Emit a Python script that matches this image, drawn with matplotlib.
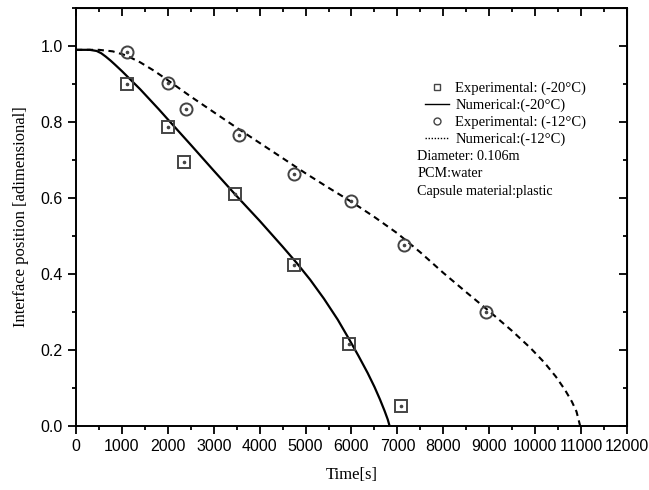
import numpy as np
import matplotlib.pyplot as plt
from matplotlib.lines import Line2D
from matplotlib.ticker import MultipleLocator

# experimental points
exp20_t = [1100, 2000, 2350, 3470, 4750, 5950, 7070]
exp20_y = [0.90, 0.787, 0.695, 0.61, 0.425, 0.215, 0.052]
exp12_t = [1100, 2000, 2400, 3550, 4750, 6000, 7150, 8940]
exp12_y = [0.985, 0.902, 0.835, 0.766, 0.663, 0.592, 0.476, 0.301]

# numerical curves
num20_t = [0, 300, 450, 550, 650, 750, 850, 1000, 1200, 1400, 1600, 1800,
           2000, 2500, 3000, 3500, 4000, 4500, 4800, 5100, 5400, 5700,
           5950, 6150, 6350, 6500, 6620, 6720, 6790, 6830]
num20_y = [0.99, 0.99, 0.987, 0.981, 0.972, 0.962, 0.951, 0.934, 0.91,
           0.886, 0.86, 0.834, 0.807, 0.74, 0.672, 0.605, 0.54, 0.472,
           0.43, 0.385, 0.335, 0.28, 0.228, 0.185, 0.14, 0.103, 0.07,
           0.04, 0.017, 0.0]
num12_t = [0, 500, 800, 1100, 1400, 1700, 2000, 2500, 3000, 3500, 4000,
           4500, 5000, 5500, 6000, 6500, 7000, 7500, 8000, 8500, 9000, 9500,
           9900, 10200, 10450, 10650, 10800, 10900, 10980]
num12_y = [0.99, 0.99, 0.986, 0.975, 0.957, 0.935, 0.91, 0.867, 0.826,
           0.785, 0.745, 0.705, 0.665, 0.627, 0.59, 0.55, 0.507, 0.457,
           0.403, 0.352, 0.302, 0.25, 0.205, 0.167, 0.13, 0.095, 0.064,
           0.038, 0.0]

legend_labels = ["Experimental: (-20\u00b0C)", "Numerical:(-20\u00b0C)",
                 "Experimental: (-12\u00b0C)", "Numerical:(-12\u00b0C)"]
notes = ["Diameter: 0.106m", "PCM:water", "Capsule material:plastic"]

serif = "Liberation Serif"
sans = "Liberation Sans"
edge = "#444444"

fig = plt.figure(figsize=(6.49, 4.90), dpi=100)
ax = fig.add_axes([0.1171, 0.1306, 0.849, 0.853])

ax.plot(num20_t, num20_y, color="black", lw=1.6, solid_joinstyle="round")
ax.plot(num12_t, num12_y, color="black", lw=1.5, dashes=(3, 2.2))

ax.plot(exp20_t, exp20_y, ls="none", marker="s", ms=8.3, mfc="none",
        mec=edge, mew=1.4)
ax.plot(exp20_t, exp20_y, ls="none", marker="o", ms=1.6, color=edge)
ax.plot(exp12_t, exp12_y, ls="none", marker="o", ms=8.7, mfc="none",
        mec=edge, mew=1.4)
ax.plot(exp12_t, exp12_y, ls="none", marker="o", ms=1.6, color=edge)

ax.set_xlim(0, 12000)
ax.set_ylim(0, 1.1)
ax.xaxis.set_major_locator(MultipleLocator(1000))
ax.xaxis.set_minor_locator(MultipleLocator(500))
ax.yaxis.set_major_locator(MultipleLocator(0.2))
ax.yaxis.set_minor_locator(MultipleLocator(0.1))
ax.yaxis.set_major_formatter(plt.FuncFormatter(lambda v, p: f"{v:.1f}"))

for s in ax.spines.values():
    s.set_linewidth(1.4)
ax.tick_params(which="both", direction="out", width=1.3, labelsize=11.5)
ax.tick_params(which="major", length=6)
ax.tick_params(which="minor", length=3)
for lab in ax.get_xticklabels() + ax.get_yticklabels():
    lab.set_fontfamily(sans)

top = ax.secondary_xaxis("top")
top.xaxis.set_major_locator(MultipleLocator(1000))
top.xaxis.set_minor_locator(MultipleLocator(500))
top.tick_params(which="both", direction="in", width=1.3, labeltop=False)
top.tick_params(which="major", length=6)
top.tick_params(which="minor", length=3)
right = ax.secondary_yaxis("right")
right.yaxis.set_major_locator(MultipleLocator(0.2))
right.yaxis.set_minor_locator(MultipleLocator(0.1))
right.tick_params(which="both", direction="in", width=1.3, labelright=False)
right.tick_params(which="major", length=6)
right.tick_params(which="minor", length=3)

ax.set_xlabel("Time[s]", fontfamily=serif, fontsize=12, labelpad=9)
ax.set_ylabel("Interface position [adimensional]", fontfamily=serif,
              fontsize=12, labelpad=8)

handles = [
    Line2D([], [], ls="none", marker="s", ms=5, mfc="none", mec=edge, mew=1),
    Line2D([], [], color="black", lw=1),
    Line2D([], [], ls="none", marker="o", ms=5, mfc="none", mec=edge, mew=1),
    Line2D([], [], color="black", lw=1, ls=(0, (1, 1.2))),
]
ax.legend(handles, legend_labels, loc="upper left",
          bbox_to_anchor=(0.6225, 0.838), frameon=False,
          prop={"family": serif, "size": 10.5}, handlelength=1.65,
          handletextpad=0.45, labelspacing=0.25, borderaxespad=0)

for i, note in enumerate(notes):
    ax.text(0.619, 0.645 - i * 0.042, note, transform=ax.transAxes,
            fontfamily=serif, fontsize=10.2, va="center", ha="left")

fig.savefig("out.png", dpi=100)
